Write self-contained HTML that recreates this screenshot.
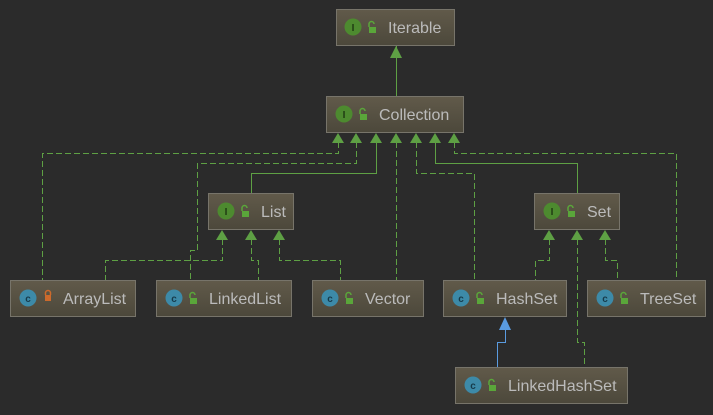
<!DOCTYPE html>
<html><head><style>
html,body{margin:0;padding:0;background:#2b2b2b;}
svg{display:block;}
text{font-family:"Liberation Sans",sans-serif;}
</style></head><body>
<svg width="713" height="415" viewBox="0 0 713 415" xmlns="http://www.w3.org/2000/svg">
<defs>
<linearGradient id="g" x1="0" y1="0" x2="0" y2="1"><stop offset="0" stop-color="#615a4a"/><stop offset="1" stop-color="#4c483b"/></linearGradient>
<g id="ib"><circle r="8.5" fill="#4d8a2f"/><text x="0" y="4" text-anchor="middle" font-size="10" font-weight="bold" fill="#1f3a12" font-family="Liberation Serif">I</text></g>
<g id="cb"><circle r="8.5" fill="#3d8aa8"/><text x="0" y="4" text-anchor="middle" font-size="10" font-weight="bold" fill="#163a4a">c</text></g>
<g id="lk"><rect x="0" y="3" width="7" height="6" fill="#5aa63a"/><path d="M0,3 v-3 a2.5,2.5 0 0 1 5,0" fill="none" stroke="#5aa63a" stroke-width="1.5"/></g>
</defs>
<g fill="none" stroke="#5ea044" stroke-width="1">
<path d="M396.5 46 V96"/>
<g stroke-dasharray="6,3">
<path d="M338.5 142 V153.5 H42.5 V280"/>
<path d="M356.5 142 V163.5 H197.5 V250.5 H190.5 V280"/>
<path d="M396.5 142 V280"/>
<path d="M416.5 142 V173.5 H474.5 V280"/>
<path d="M454.5 142 V153.5 H676.5 V280"/>
<path d="M222.5 239 V260.5 H105.5 V280"/>
<path d="M251.5 239 V260.5 H258.5 V280"/>
<path d="M279.5 239 V260.5 H340.5 V280"/>
<path d="M549.5 239 V260.5 H535.5 V280"/>
<path d="M577.5 239 V342.5 H584.5 V367"/>
<path d="M605.5 239 V260.5 H617.5 V280"/>
</g>
<path d="M376.5 142 V173.5 H251.5 V193"/>
<path d="M435.5 142 V163.5 H577.5 V193"/>
</g>
<path d="M497.5 367 V342.5 H505.5 V330" fill="none" stroke="#5a9be0"/>
<polygon points="505,317 499,330 511,330" fill="#5a9be0"/>
<g fill="#5ea044">
<polygon points="396,46 390,58 402,58"/>
<polygon points="338,133 332,143 344,143"/>
<polygon points="356,133 350,143 362,143"/>
<polygon points="376,133 370,143 382,143"/>
<polygon points="396,133 390,143 402,143"/>
<polygon points="416,133 410,143 422,143"/>
<polygon points="435,133 429,143 441,143"/>
<polygon points="454,133 448,143 460,143"/>
<polygon points="222,230 216,240 228,240"/>
<polygon points="251,230 245,240 257,240"/>
<polygon points="279,230 273,240 285,240"/>
<polygon points="549,230 543,240 555,240"/>
<polygon points="577,230 571,240 583,240"/>
<polygon points="605,230 599,240 611,240"/>
</g>
<g stroke="#77746a" stroke-width="1" fill="url(#g)">
<rect x="336.5" y="9.5" width="118" height="36"/>
<rect x="326.5" y="96.5" width="137" height="36"/>
<rect x="208.5" y="193.5" width="85" height="36"/>
<rect x="534.5" y="193.5" width="85" height="36"/>
<rect x="10.5" y="280.5" width="125" height="36"/>
<rect x="156.5" y="280.5" width="135" height="36"/>
<rect x="312.5" y="280.5" width="111" height="36"/>
<rect x="443.5" y="280.5" width="123" height="36"/>
<rect x="587.5" y="280.5" width="118" height="36"/>
<rect x="455.5" y="367.5" width="172" height="36"/>
</g>
<g font-size="16" fill="#bbbbbb">
<use href="#ib" x="353" y="27"/><use href="#lk" x="369" y="24"/><text x="388" y="33">Iterable</text>
<use href="#ib" x="344" y="114"/><use href="#lk" x="360" y="111"/><text x="379" y="120">Collection</text>
<use href="#ib" x="226" y="211"/><use href="#lk" x="242" y="208"/><text x="261" y="217">List</text>
<use href="#ib" x="552" y="211"/><use href="#lk" x="568" y="208"/><text x="587" y="217">Set</text>
<use href="#cb" x="28" y="298"/><rect x="45" y="295" width="6" height="6" fill="#cc6a2c"/><path d="M45.5 295 v-2 a2.5,2.5 0 0 1 5,0 v2" fill="none" stroke="#cc6a2c" stroke-width="1.5"/><text x="63" y="304">ArrayList</text>
<use href="#cb" x="174" y="298"/><use href="#lk" x="190" y="295"/><text x="209" y="304">LinkedList</text>
<use href="#cb" x="330" y="298"/><use href="#lk" x="346" y="295"/><text x="365" y="304">Vector</text>
<use href="#cb" x="461" y="298"/><use href="#lk" x="477" y="295"/><text x="496" y="304">HashSet</text>
<use href="#cb" x="605" y="298"/><use href="#lk" x="621" y="295"/><text x="640" y="304">TreeSet</text>
<use href="#cb" x="473" y="385"/><use href="#lk" x="489" y="382"/><text x="508" y="391">LinkedHashSet</text>
</g>
</svg>
</body></html>
